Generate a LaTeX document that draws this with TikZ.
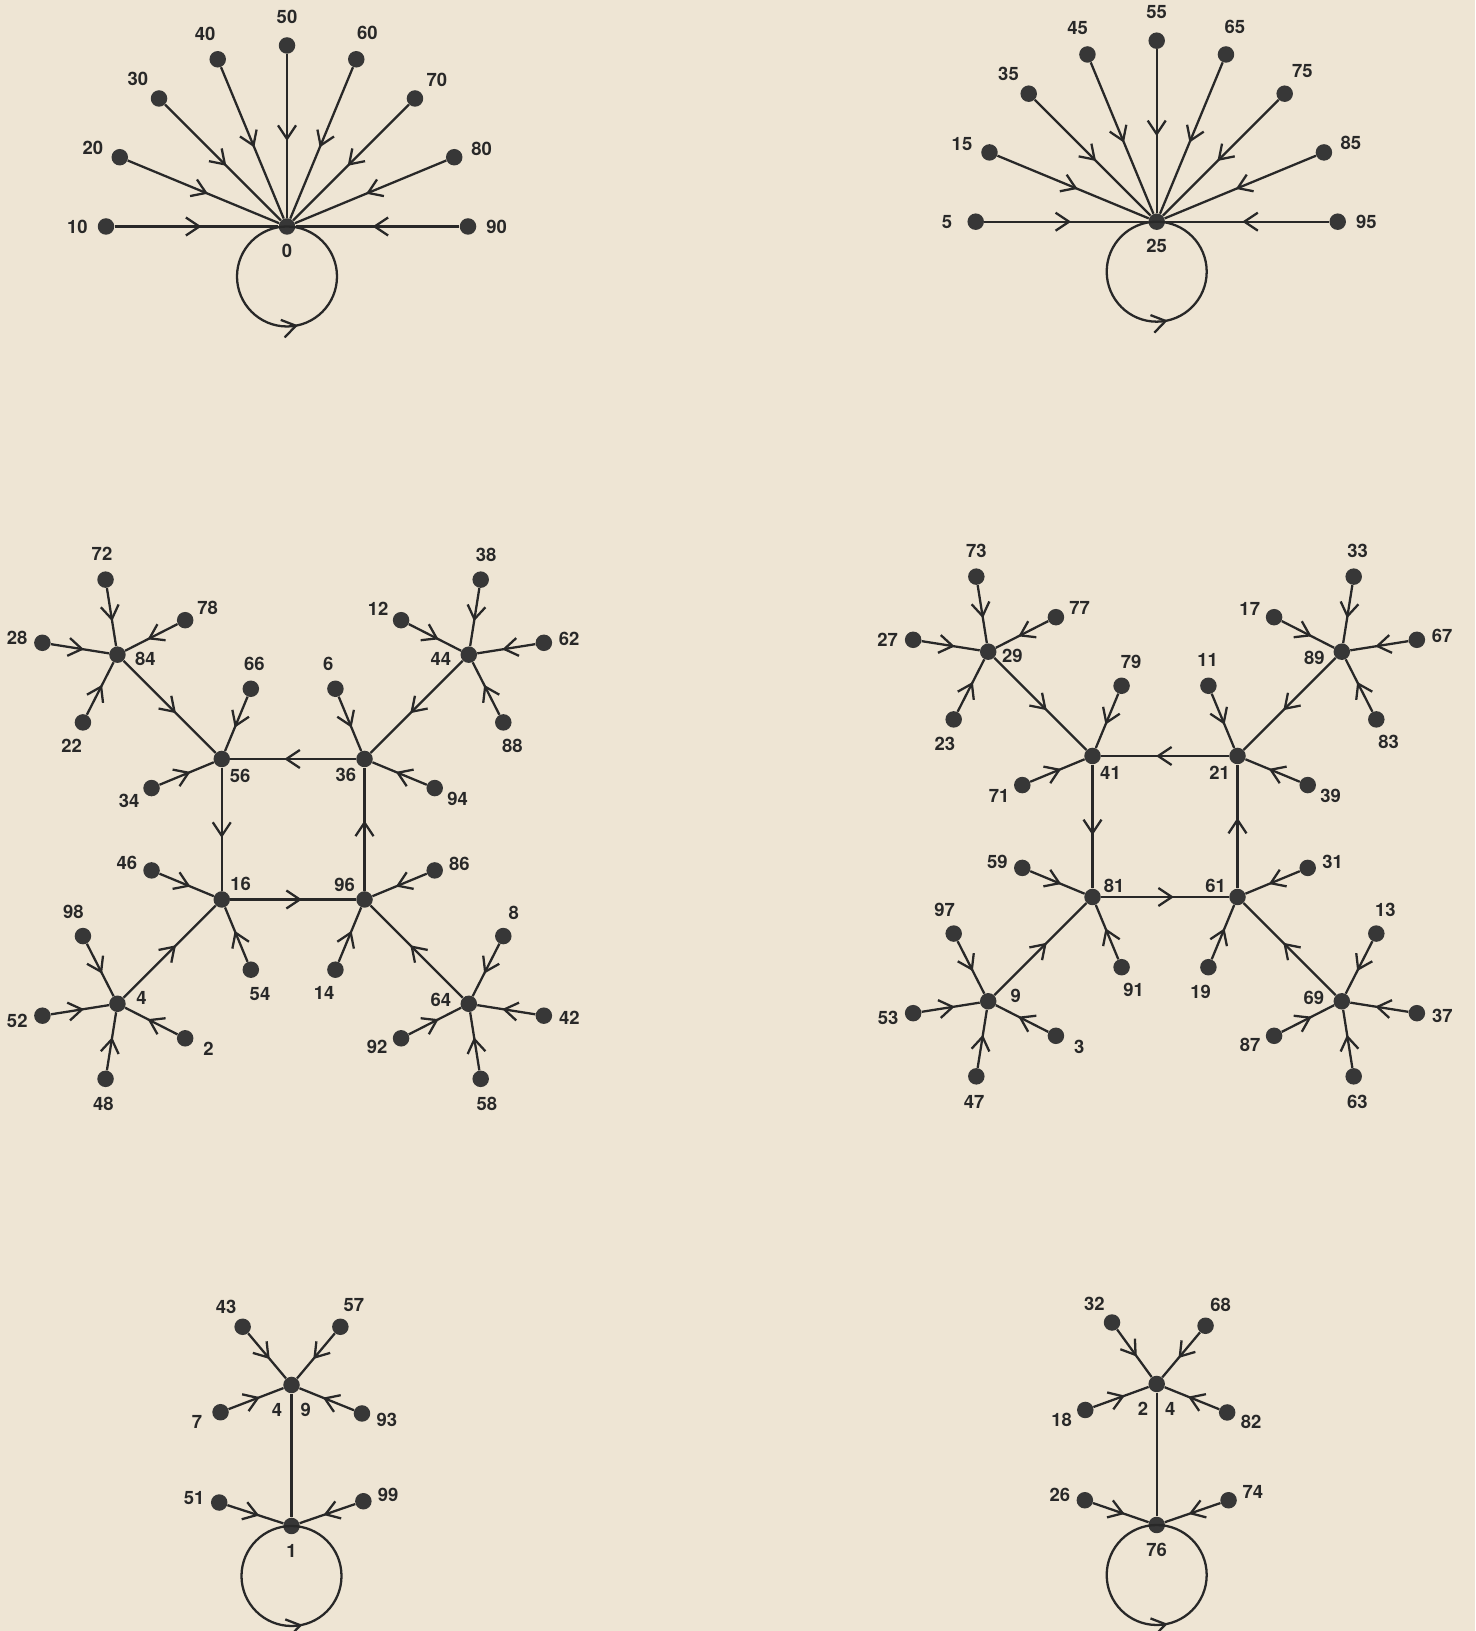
\documentclass[tikz,border=0pt]{standalone}
\usepackage{fontspec}
\setsansfont{TeX Gyre Heros}
\usetikzlibrary{arrows.meta,decorations.markings}

\definecolor{paper}{RGB}{238,229,212}
\definecolor{ink}{RGB}{40,40,40}
\definecolor{dot}{RGB}{55,55,55}

\tikzset{
  pt/.style={circle,fill=dot,inner sep=0pt,minimum size=0.33cm},
  lab/.style={anchor=center,inner sep=0pt,label distance=0.34cm,text=ink,
    font=\sffamily\bfseries\fontsize{10.5}{12}\selectfont},
  hub/.style={lab,label distance=0.32cm},
  side/.style={lab,label distance=0.39cm},
  fan/.style={lab,label distance=0.40cm},
  link/.style={draw=ink,line width=1.3pt},
  flow/.style={link,decoration={markings,mark=at position #1 with
    {\arrow[ink]{Straight Barb[length=0.27cm,width=0.36cm]}}},postaction={decorate}},
  flow/.default=0.57
}

\begin{document}
\begin{tikzpicture}
  \fill[paper] (0,0) rectangle (29.5,32.62);
  \useasboundingbox (0,0) rectangle (29.5,32.62);

  % squares ending in 00
  \node[pt,label={[hub]270:0}] (n0) at (5.74,28.09) {};
  \foreach \v/\a/\l in {10/180/180,20/157.5/160,30/135/138,40/112.5/116,
      50/90/90,60/67.5/67,70/45/40,80/22.5/16,90/0/0}{
    \node[pt,label={[fan]\l:\v}] (n\v) at ([shift={(\a:3.62)}]n0) {};
    \draw[flow=0.53] (n\v) -- (n0);
  }
  \draw[flow=0.535] (n0.center) arc[start angle=90,delta angle=360,radius=1cm];

  % squares ending in 25
  \node[pt,label={[hub]270:25}] (n25) at (23.134,28.186) {};
  \foreach \v/\a/\l in {5/180/180,15/157.5/164,35/135/135,45/112.5/110,
      55/90/90,65/67.5/72,75/45/52,85/22.5/19,95/0/0}{
    \node[pt,label={[fan]\l:\v}] (n\v) at ([shift={(\a:3.62)}]n25) {};
    \draw[flow=0.53] (n\v) -- (n25);
  }
  \draw[flow=0.535] (n25.center) arc[start angle=90,delta angle=360,radius=1cm];

  % ring 56 16 96 36
  \node[pt,label={[hub]318:56}] (n56) at (4.435,17.44) {};
  \node[pt,label={[hub]221:36}] (n36) at (7.29,17.44) {};
  \node[pt,label={[hub]40:16}] (n16) at (4.435,14.63) {};
  \node[pt,label={[hub]144:96}] (n96) at (7.29,14.63) {};
  \node[pt,label={[side]352:84}] (n84) at ([shift={(135:2.95)}]n56) {};
  \node[pt,label={[side]188:44}] (n44) at ([shift={(45:2.95)}]n36) {};
  \node[pt,label={[hub]13:4}] (n4) at ([shift={(225:2.95)}]n16) {};
  \node[pt,label={[side]173:64}] (n64) at ([shift={(315:2.95)}]n96) {};
  \foreach \f/\t in {56/16,16/96,96/36,36/56,84/56,44/36,4/16,64/96}
    \draw[flow] (n\f) -- (n\t);
  \foreach \v/\h/\a/\l in {72/84/99/98,78/84/27/29,28/84/171/170,22/84/243/244,
      38/44/81/78,62/44/9/8,12/44/153/154,88/44/297/291,
      98/4/117/112,52/4/189/191,48/4/261/265,2/4/333/336,
      8/64/63/66,42/64/351/355,58/64/279/284,92/64/207/200,
      66/56/67.5/82,34/56/202.5/209,6/36/112.5/106,94/36/337.5/334,
      46/16/157.5/164,54/16/292.5/291,86/96/22.5/15,14/96/247.5/244}{
    \node[pt,label={[lab]\l:\v}] (n\v) at ([shift={(\a:1.52)}]n\h) {};
    \draw[flow] (n\v) -- (n\h);
  }

  % ring 41 81 61 21
  \node[pt,label={[hub]317:41}] (n41) at (21.85,17.50) {};
  \node[pt,label={[hub]223:21}] (n21) at (24.75,17.50) {};
  \node[pt,label={[hub]28:81}] (n81) at (21.85,14.68) {};
  \node[pt,label={[hub]153:61}] (n61) at (24.75,14.68) {};
  \node[pt,label={[hub]350:29}] (n29) at ([shift={(135:2.95)}]n41) {};
  \node[pt,label={[side]192:89}] (n89) at ([shift={(45:2.95)}]n21) {};
  \node[pt,label={[side]11:9}] (n9) at ([shift={(225:2.95)}]n81) {};
  \node[pt,label={[side]174:69}] (n69) at ([shift={(315:2.95)}]n61) {};
  \foreach \f/\t in {41/81,81/61,61/21,21/41,29/41,89/21,9/81,69/61}
    \draw[flow] (n\f) -- (n\t);
  \foreach \v/\h/\a/\l in {73/29/99/90,77/29/27/22,27/29/171/180,23/29/243/250,
      33/89/81/81,67/89/9/8,17/89/153/162,83/89/297/299,
      97/9/117/111,53/9/189/191,47/9/261/265,3/9/333/335,
      13/69/63/69,37/69/351/353,63/69/279/278,87/69/207/200,
      79/41/67.5/68,71/41/202.5/205,11/21/112.5/92,39/21/337.5/334,
      59/81/157.5/166,91/81/292.5/298,31/61/22.5/13,19/61/247.5/252}{
    \node[pt,label={[lab]\l:\v}] (n\v) at ([shift={(\a:1.52)}]n\h) {};
    \draw[flow] (n\v) -- (n\h);
  }

  % fixed point 1
  \node[pt,label={[hub]270:4\hspace{0.37cm}9}] (n49) at (5.83,4.92) {};
  \node[pt,label={[hub]270:1}] (n1) at (5.83,2.10) {};
  \draw[link] (n49) -- (n1);
  \foreach \v/\h/\a/\l in {43/49/130/130,57/49/50/58,7/49/201/203,93/49/338/346,
      51/1/162/169,99/1/19/14}{
    \node[pt,label={[lab]\l:\v}] (n\v) at ([shift={(\a:1.52)}]n\h) {};
    \draw[flow] (n\v) -- (n\h);
  }
  \draw[flow=0.535] (n1.center) arc[start angle=90,delta angle=360,radius=1cm];

  % fixed point 76
  \node[pt,label={[hub]270:2\hspace{0.34cm}4}] (n24) at (23.134,4.94) {};
  \node[pt,label={[hub]270:76}] (n76) at (23.134,2.12) {};
  \draw[link] (n24) -- (n76);
  \foreach \v/\h/\a/\l in {32/24/126/134,68/24/50/54,18/24/200/202,82/24/338/339,
      26/76/161/167,74/76/19/18}{
    \node[pt,label={[lab]\l:\v}] (n\v) at ([shift={(\a:1.52)}]n\h) {};
    \draw[flow] (n\v) -- (n\h);
  }
  \draw[flow=0.535] (n76.center) arc[start angle=90,delta angle=360,radius=1cm];
\end{tikzpicture}
\end{document}
